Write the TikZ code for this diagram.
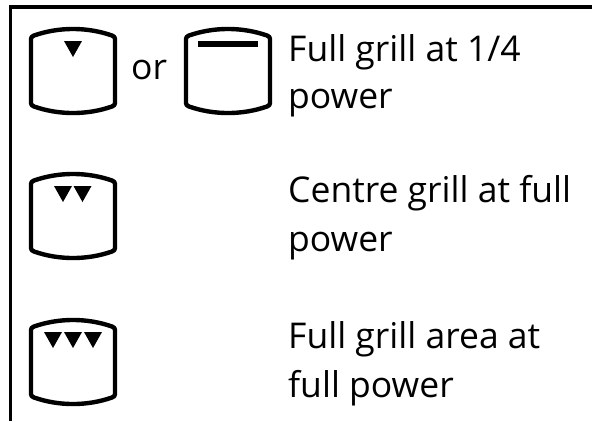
\documentclass[tikz,border=0pt]{standalone}
\usepackage{fontspec}
\setmainfont{Open Sans}
\tikzset{
  lbl/.style={anchor=base west,inner sep=0pt,font=\fontsize{35.5}{36}\selectfont,text=black},
  btn/.style={line width=4.4pt,draw=black,line join=round},
  tri/.style={fill=black,draw=none},
  frameline/.style={line width=3.5pt,draw=black}
}
\newcommand{\btnshape}{%
  \draw[btn] (0,10) .. controls (0,8) and (1,7.5) .. (3,6.5)
   .. controls (28,-2.2) and (56,-2.2) .. (81,6.5)
   .. controls (83,7.5) and (84,8) .. (84,10) -- (84,74)
   .. controls (84,76) and (83,76.5) .. (81,77.5)
   .. controls (56,86.2) and (28,86.2) .. (3,77.5)
   .. controls (1,76.5) and (0,76) .. (0,74) -- cycle;}
\newcommand{\tridown}[1]{\fill[tri] (#1,12) -- ++(18,0) -- ++(-9,16) -- cycle;}
\begin{document}
\begin{tikzpicture}[x=1pt,y=-1pt]
\useasboundingbox (0,0) rectangle (592,421);
\fill[white] (0,0) rectangle (592,421);
\draw[frameline] (10.3,421) -- (10.3,7) -- (592,7);
\begin{scope}[shift={(31,29)}]
 \btnshape
 \tridown{33}
\end{scope}
\begin{scope}[shift={(186,29)}]
 \btnshape
 \fill[black] (12,12) rectangle (72,18);
\end{scope}
\node[lbl] (or) at (131,79) {or};
\node[lbl] (a1) at (288,61) {Full grill at 1/4};
\node[lbl] (a2) at (288,108) {power};
\begin{scope}[shift={(31,174)}]
 \btnshape
 \tridown{23}
 \tridown{42.5}
\end{scope}
\node[lbl] (b1) at (288,202) {Centre grill at full};
\node[lbl] (b2) at (288,251) {power};
\begin{scope}[shift={(31,320)}]
 \btnshape
 \tridown{13}
 \tridown{33}
 \tridown{53}
\end{scope}
\node[lbl] (c1) at (288,348) {Full grill area at};
\node[lbl] (c2) at (288,397) {full power};
\end{tikzpicture}
\end{document}
